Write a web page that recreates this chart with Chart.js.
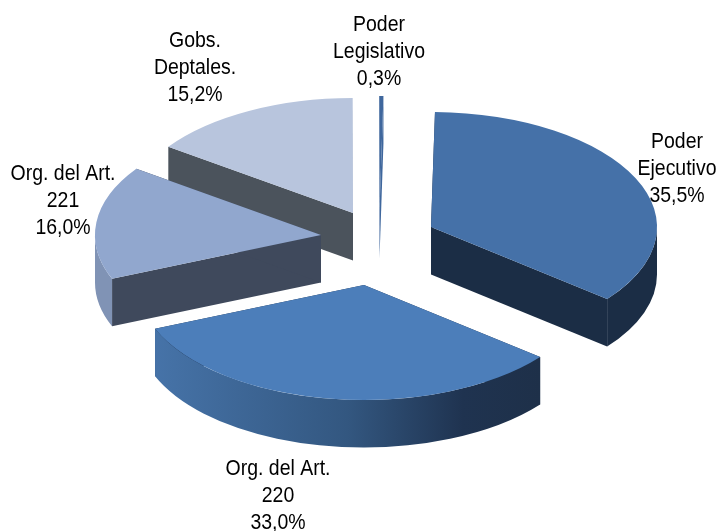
<!DOCTYPE html>
<html>
<head>
<meta charset="utf-8">
<style>html,body{margin:0;padding:0;background:#fff}canvas{display:block}</style>
<script src="https://cdn.jsdelivr.net/npm/chart.js@4/dist/chart.umd.min.js"></script>
</head>
<body>
<canvas id="c" width="718" height="531"></canvas>
<script>
const categories = [["Poder","Ejecutivo"],["Org. del Art.","220"],["Org. del Art.","221"],["Gobs.","Deptales."],["Poder","Legislativo"]];
const shares = [35.5, 33.0, 16.0, 15.2, 0.3];

const topColors = ["#4571a8","#4c7eba","#91a7ce","#b8c5dd","#3f679d"];
const cutColors = ["#1b2d45","#1e3049","#3f495c","#4b535c","#3f679d"];
const rimColors = ["#1b2d45",null,"#8093b5","#4b535c","#3f679d"];
const explodeX = [51,-16,-59,-27,-0.5];
const explodeY = [-18,40,-10,-32,-34];
const labelX = [677,278,63,195,379];
const labelY = [141.5,468.5,173.5,40.5,24.5];
const squash = 115/226, depth = 47.5, lineGap = 27.2, textNarrow = 0.865;

const pie3d = {
  id:'pie3d',
  beforeDatasetsDraw(chart){
    const ctx = chart.ctx, arcs = chart.getDatasetMeta(0).data;
    const order = [3,4,2,0,1];
    order.forEach(i=>{
      const a = arcs[i], cx = a.x+explodeX[i], cy = a.y+explodeY[i];
      const rx = a.outerRadius, ry = rx*squash;
      const px = t=>cx+rx*Math.cos(t), py = t=>cy+ry*Math.sin(t);
      [a.startAngle,a.endAngle].forEach(t=>{
        ctx.beginPath();
        ctx.moveTo(cx,cy);ctx.lineTo(px(t),py(t));ctx.lineTo(px(t),py(t)+depth);ctx.lineTo(cx,cy+depth);
        ctx.closePath();ctx.fillStyle=cutColors[i];ctx.fill();
      });
      const s = Math.max(a.startAngle,0), e = Math.min(a.endAngle,Math.PI);
      if(e>s){
        ctx.beginPath();
        ctx.ellipse(cx,cy,rx,ry,0,s,e);
        ctx.ellipse(cx,cy+depth,rx,ry,0,e,s,true);
        ctx.closePath();
        if(rimColors[i]) ctx.fillStyle=rimColors[i];
        else{
          const g = ctx.createLinearGradient(px(e),0,px(s),0);
          g.addColorStop(0,"#4673a8");g.addColorStop(0.5,"#335780");g.addColorStop(0.8,"#1f3350");g.addColorStop(1,"#1e3049");
          ctx.fillStyle=g;
        }
        ctx.fill();
      }
      ctx.save();
      ctx.translate(cx,cy);ctx.scale(1,squash);ctx.translate(-a.x,-a.y);
      a.draw(ctx);
      ctx.restore();
    });
    return false;
  },
  afterDraw(chart){
    const ctx = chart.ctx;
    ctx.save();
    ctx.fillStyle="#000";ctx.font='22.5px "Liberation Sans"';ctx.textAlign='center';ctx.textBaseline='middle';
    categories.forEach((c,i)=>{
      const lines = c.concat(shares[i].toFixed(1).replace('.',',')+'%');
      lines.forEach((t,j)=>{
        ctx.save();
        ctx.translate(labelX[i],labelY[i]+j*lineGap);
        ctx.scale(textNarrow,1);
        ctx.fillText(t,0,0);
        ctx.restore();
      });
    });
    ctx.restore();
  }
};

new Chart(document.getElementById('c'),{
  type:'pie',
  data:{labels:categories,datasets:[{data:shares,backgroundColor:topColors,borderWidth:0,hoverOffset:0}]},
  options:{
    responsive:false,animation:false,rotation:1,radius:226,
    layout:{padding:{left:42,bottom:41}},
    plugins:{legend:{display:false},tooltip:{enabled:false}}
  },
  plugins:[pie3d]
});
</script>
</body>
</html>
